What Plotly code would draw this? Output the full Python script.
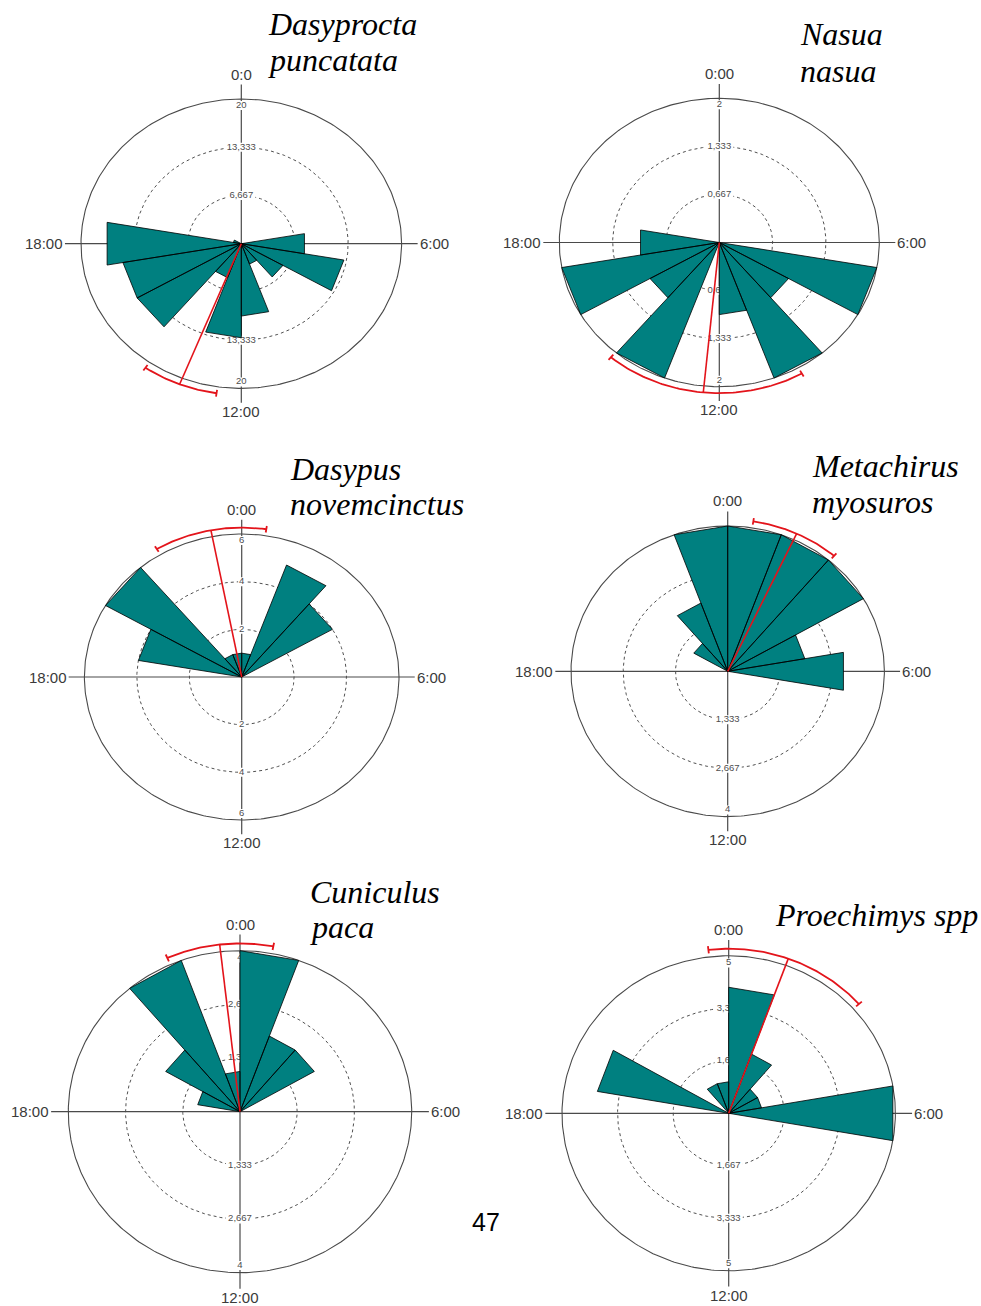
import numpy as np
import plotly.graph_objects as go

W, H = 981, 1306

# ---------------- data ----------------
# 18 bins of 20 degrees (1h20m), starting at 0:00 and running clockwise
bin_width_deg = 20
dasyprocta = [0, 0, 0, 0, 8, 13, 6, 3, 10, 13, 5, 15, 15, 17, 1, 0, 0, 0]
nasua = [0, 0, 0, 0, 0, 2, 1, 2, 1, 0, 2, 1, 2, 1, 0, 0, 0, 0]
dasypus = [1, 5, 4, 0, 0, 0, 0, 0, 0, 0, 0, 0, 0, 0, 4, 6, 1, 1]
metachirus = [4, 4, 4, 2, 3, 0, 0, 0, 0, 0, 0, 0, 0, 0, 0, 1, 2, 4]
cuniculus = [4, 2, 2, 0, 0, 0, 0, 0, 0, 0, 0, 0, 0, 0, 1, 2, 4, 1]
proechimys = [4, 2, 1, 1, 5, 0, 0, 0, 0, 0, 0, 0, 0, 0, 4, 0, 1, 1]
series = [dasyprocta, nasua, dasypus, metachirus, cuniculus, proechimys]

radial_max = [20, 2, 6, 4, 4, 5]
radial_ticks = [[6.667, 13.333, 20], [0.667, 1.333, 2], [2, 4, 6],
                [1.333, 2.667, 4], [1.333, 2.667, 4], [1.667, 3.333, 5]]
radial_tick_labels = [["6,667", "13,333", "20"], ["0,667", "1,333", "2"], ["2", "4", "6"],
                      ["1,333", "2,667", "4"], ["1,333", "2,667", "4"], ["1,667", "3,333", "5"]]

# mean vector direction and its 95% confidence limits (degrees, clockwise from 0:00)
mean_deg = [201.6, 185.5, 349.2, 24.9, 353.5, 20.0]
ci_low_deg = [188.5, 150.4, 328.9, 9.0, 336.1, 353.3]
ci_high_deg = [214.9, 220.4, 368.6, 40.5, 370.7, 408.4]

titles = [["Dasyprocta", "puncatata"], ["Nasua", "nasua"], ["Dasypus", "novemcinctus"],
          ["Metachirus", "myosuros"], ["Cuniculus", "paca"], ["Proechimys spp"]]
top_time_labels = ["0:0", "0:00", "0:00", "0:00", "0:00", "0:00"]
right_time_label = "6:00"
bottom_time_label = "12:00"
left_time_label = "18:00"
page_number = "47"

# ---------------- layout geometry (page pixels) ----------------
# centre x, centre y, horizontal radius, vertical radius
geom = [
    (241.3, 243.7, 160.3, 144.7),
    (719.3, 242.5, 160.0, 144.2),
    (241.7, 677.0, 157.3, 143.0),
    (727.7, 671.3, 156.7, 145.3),
    (240.0, 1111.7, 171.7, 161.0),
    (728.7, 1113.3, 166.7, 157.5),
]
# title lines: (left x, middle y) in page pixels for each line
title_pos = [
    [(266, 24), (266, 60)],
    [(798, 34), (798, 71)],
    [(288, 469), (288, 504)],
    [(810, 466), (810, 502)],
    [(308, 892), (308, 927)],
    [(773, 915)],
]
E = 1.15  # half-extent of each subplot in unit-circle coordinates

TEAL = "#008080"
RED = "#e3141b"
GREY = "#4a4a4a"
SANS = "Liberation Sans, Arial, sans-serif"
SERIF = "Liberation Serif, Times New Roman, serif"


def fx(px):
    return min(1.0, max(0.0, px / W))


def fy(py):
    return min(1.0, max(0.0, 1 - py / H))


def pol(r, deg):
    t = np.radians(deg)
    return r * np.sin(t), r * np.cos(t)


fig = go.Figure()
annotations = []

for k in range(6):
    sfx = "" if k == 0 else str(k + 1)
    xa, ya = "x" + sfx, "y" + sfx
    cx, cy, rx, ry = geom[k]
    M = radial_max[k]
    fig.update_layout(**{
        "xaxis" + sfx: dict(domain=[fx(cx - E * rx), fx(cx + E * rx)], range=[-E, E],
                            visible=False, fixedrange=True),
        "yaxis" + sfx: dict(domain=[fy(cy + E * ry), fy(cy - E * ry)], range=[-E, E],
                            visible=False, fixedrange=True),
    })

    th = np.linspace(0, 360, 361)
    # outer circle
    x, y = pol(1.0, th)
    fig.add_trace(go.Scatter(x=x, y=y, mode="lines", line=dict(color=GREY, width=1.1),
                             xaxis=xa, yaxis=ya, hoverinfo="skip", showlegend=False))
    # dashed circles
    for v in radial_ticks[k][:2]:
        x, y = pol(v / M, th)
        fig.add_trace(go.Scatter(x=x, y=y, mode="lines",
                                 line=dict(color="#505050", width=1, dash="3px,3px"),
                                 xaxis=xa, yaxis=ya, hoverinfo="skip", showlegend=False))
    # cross axes
    fig.add_trace(go.Scatter(x=[-1.1, 1.1, None, 0, 0], y=[0, 0, None, -1.1, 1.1], mode="lines",
                             line=dict(color=GREY, width=1.2),
                             xaxis=xa, yaxis=ya, hoverinfo="skip", showlegend=False))
    # radial tick labels on the vertical axis (top and bottom)
    lab_y, lab_t = [], []
    for v, t in zip(radial_ticks[k], radial_tick_labels[k]):
        rp = v / M if v < M else 0.955
        lab_y += [rp, -rp]
        lab_t += [t, t]
    bx, by = [], []
    for yy, t in zip(lab_y, lab_t):
        hw = (len(t) * 0.55 * 9.5 / 2 + 1) / rx
        bx += [-hw, hw, None]
        by += [yy, yy, None]
    fig.add_trace(go.Scatter(x=bx, y=by, mode="lines", line=dict(color="white", width=9),
                             xaxis=xa, yaxis=ya, hoverinfo="skip", showlegend=False))
    fig.add_trace(go.Scatter(x=[0] * len(lab_y), y=lab_y, text=lab_t, mode="text",
                             textfont=dict(family=SANS, size=9.5, color="#4d4d4d"),
                             textposition="middle center", cliponaxis=False,
                             xaxis=xa, yaxis=ya, hoverinfo="skip", showlegend=False))
    # rose wedges
    wx, wy = [], []
    for i, c in enumerate(series[k]):
        if c <= 0:
            continue
        a0, a1 = i * bin_width_deg, (i + 1) * bin_width_deg
        x0, y0 = pol(c / M, a0)
        x1, y1 = pol(c / M, a1)
        wx += [0, x0, x1, 0, None]
        wy += [0, y0, y1, 0, None]
    fig.add_trace(go.Scatter(x=wx, y=wy, mode="lines", fill="toself", fillcolor=TEAL,
                             line=dict(color="black", width=0.8),
                             xaxis=xa, yaxis=ya, hoverinfo="skip", showlegend=False))
    # mean vector and confidence arc
    mx, my = pol(1.045, mean_deg[k])
    fig.add_trace(go.Scatter(x=[0, mx], y=[0, my], mode="lines", line=dict(color=RED, width=1.6),
                             xaxis=xa, yaxis=ya, hoverinfo="skip", showlegend=False))
    ath = np.linspace(ci_low_deg[k], ci_high_deg[k], 80)
    ax_, ay_ = pol(1.045, ath)
    cx0a, cy0a = pol(1.022, ci_low_deg[k])
    cx0b, cy0b = pol(1.068, ci_low_deg[k])
    cx1a, cy1a = pol(1.022, ci_high_deg[k])
    cx1b, cy1b = pol(1.068, ci_high_deg[k])
    fig.add_trace(go.Scatter(x=list(ax_) + [None, cx0a, cx0b, None, cx1a, cx1b],
                             y=list(ay_) + [None, cy0a, cy0b, None, cy1a, cy1b],
                             mode="lines", line=dict(color=RED, width=1.8),
                             xaxis=xa, yaxis=ya, hoverinfo="skip", showlegend=False))

    # clock labels
    lf = dict(family=SANS, size=15, color="#3a3a3a")
    annotations += [
        dict(x=0, y=1.1, xref=xa, yref=ya, text=top_time_labels[k], showarrow=False,
             xanchor="center", yanchor="bottom", font=lf),
        dict(x=0, y=-1.1, xref=xa, yref=ya, text=bottom_time_label, showarrow=False,
             xanchor="center", yanchor="top", yshift=2, font=lf),
        dict(x=-1.1, y=0, xref=xa, yref=ya, text=left_time_label, showarrow=False,
             xanchor="right", yanchor="middle", font=lf),
        dict(x=1.1, y=0, xref=xa, yref=ya, text=right_time_label, showarrow=False,
             xanchor="left", yanchor="middle", font=lf),
    ]
    # species titles
    for line, (px, py) in zip(titles[k], title_pos[k]):
        annotations.append(dict(x=fx(px), y=fy(py), xref="paper", yref="paper",
                                text="<i>" + line + "</i>", showarrow=False,
                                xanchor="left", yanchor="middle",
                                font=dict(family=SERIF, size=32, color="black")))

annotations.append(dict(x=fx(485.5), y=fy(1222), xref="paper", yref="paper", text=page_number,
                        showarrow=False, xanchor="center", yanchor="middle",
                        font=dict(family=SANS, size=25, color="black")))

fig.update_layout(width=W, height=H, margin=dict(l=0, r=0, t=0, b=0),
                  paper_bgcolor="white", plot_bgcolor="rgba(0,0,0,0)",
                  annotations=annotations, showlegend=False)

fig.write_html("out.html", config={"displayModeBar": False},
               post_script="document.body.style.margin='0px';document.body.style.overflow='hidden';")
